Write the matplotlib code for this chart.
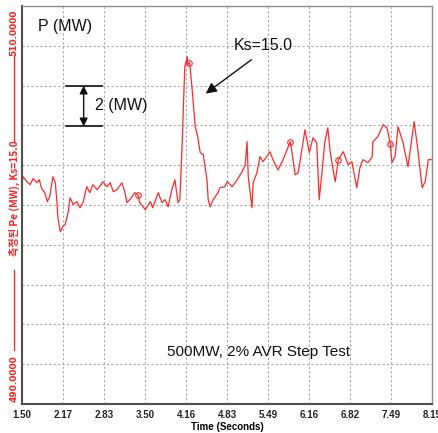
import matplotlib
matplotlib.use("Agg")
import matplotlib.pyplot as plt
import numpy as np

# ---- data ----
time_s = [1.50, 1.52, 1.58, 1.63, 1.68, 1.74, 1.78, 1.82, 1.87, 1.91, 1.95, 2.00, 2.04, 2.07, 2.08,
          2.12, 2.17, 2.20, 2.23, 2.25, 2.28, 2.33, 2.39, 2.44, 2.49, 2.55, 2.60, 2.65, 2.72, 2.77,
          2.81, 2.88, 2.93, 2.98, 3.04, 3.12, 3.17, 3.20, 3.25, 3.33, 3.38, 3.41, 3.50, 3.58, 3.62,
          3.71, 3.77, 3.82, 3.87, 3.93, 3.98, 4.03, 4.06, 4.10, 4.14, 4.18, 4.19, 4.22, 4.26, 4.31,
          4.35, 4.39, 4.44, 4.50, 4.52, 4.55, 4.60, 4.68, 4.71, 4.79, 4.83, 4.91, 4.99, 5.07, 5.12,
          5.15, 5.17, 5.23, 5.25, 5.31, 5.36, 5.41, 5.47, 5.52, 5.57, 5.65, 5.72, 5.80, 5.85, 5.88,
          5.93, 5.98, 6.04, 6.09, 6.16, 6.22, 6.28, 6.32, 6.37, 6.41, 6.46, 6.50, 6.58, 6.63, 6.71,
          6.79, 6.85, 6.93, 6.98, 7.03, 7.11, 7.18, 7.19, 7.27, 7.36, 7.42, 7.47, 7.50, 7.55, 7.60,
          7.68, 7.76, 7.86, 7.92, 7.99, 8.04, 8.09, 8.14]
power_mw = [501.12, 501.42, 501.17, 501.02, 501.32, 501.12, 501.27, 500.82, 500.62, 500.17, 500.42,
            501.42, 501.12, 500.02, 499.41, 498.66, 498.96, 499.01, 499.41, 499.66, 500.37, 500.02,
            500.17, 499.86, 500.12, 500.92, 500.62, 501.02, 500.77, 500.97, 501.17, 500.92, 501.12,
            500.67, 500.77, 501.12, 500.62, 500.12, 500.27, 500.62, 500.52, 500.12, 499.76, 500.17,
            499.86, 500.62, 500.12, 500.27, 499.91, 500.77, 501.27, 500.12, 500.27, 503.28, 506.95,
            507.45, 507.05, 507.15, 505.79, 503.93, 503.43, 502.63, 502.53, 501.27, 500.27, 499.91,
            500.27, 500.62, 500.87, 500.92, 501.17, 500.92, 501.27, 501.67, 502.03, 503.18, 501.42,
            499.86, 501.12, 501.62, 502.43, 502.18, 502.43, 502.68, 502.28, 501.77, 502.18, 502.78,
            503.18, 502.63, 501.52, 501.62, 502.78, 503.78, 502.63, 503.38, 503.13, 500.27, 501.77,
            503.13, 503.88, 502.63, 501.17, 502.28, 502.68, 502.03, 502.18, 500.87, 501.87, 502.28,
            502.13, 502.43, 503.18, 503.43, 504.04, 503.88, 503.13, 502.13, 502.43, 503.93, 503.13,
            501.92, 504.19, 502.78, 500.87, 501.17, 502.28, 502.28]
marker_t = [3.38, 4.21, 5.85, 6.63, 7.47]
marker_v = [500.52, 507.15, 503.18, 502.28, 503.08]

x_ticks = [1.50, 2.17, 2.83, 3.50, 4.16, 4.83, 5.49, 6.16, 6.82, 7.49, 8.15]
x_tick_labels = ["1.50", "2.17", "2.83", "3.50", "4.16", "4.83", "5.49", "6.16", "6.82", "7.49", "8.15"]
y_min, y_max = 490.0, 510.0
y_grid = list(np.arange(490, 511, 2))

plt.rcParams['font.family'] = ['Liberation Sans', 'DejaVu Sans']

fig = plt.figure(figsize=(4.39, 4.33), dpi=100)
ax = fig.add_axes([22/439, 29/433, 410/439, 398/433])

ax.plot(time_s, power_mw, color='#ff2a2a', lw=0.9)
ax.plot(marker_t, marker_v, ls='none', marker='o', ms=4, mfc='none', mec='#ff2a2a', mew=0.8)

ax.set_xlim(1.50, 8.15)
ax.set_ylim(y_min, y_max)
ax.set_xticks(x_ticks)
ax.set_xticklabels(x_tick_labels, fontsize=7, fontweight='bold', color='#222222')
ax.set_yticks(y_grid)
ax.set_yticklabels([])
ax.tick_params(length=0, pad=4)
ax.grid(True, color='#a8a8a8', ls=(0, (2, 2)), lw=0.8)
ax.set_xlabel("Time (Seconds)", fontsize=7, fontweight='bold', labelpad=2)

for s in ['left', 'bottom']:
    ax.spines[s].set_color('#505050')
    ax.spines[s].set_linewidth(1.5)
for s in ['top', 'right']:
    ax.spines[s].set_color('#909090')
    ax.spines[s].set_linewidth(1.0)

# y-axis labelling (red, vertical)
red = '#ff2020'
fig.text(14/439, 1 - 9/433, "510.0000", rotation=90, color=red, fontsize=6.5,
         fontweight='bold', ha='center', va='top', family=['DejaVu Sans'])
fig.text(14/439, 1 - 198/433, "측정된 Pe (MW), Ks=15.0", rotation=90, color=red, fontsize=7.3,
         fontweight='bold', ha='center', va='center', family=['Noto Sans CJK KR', 'DejaVu Sans'])
fig.text(14/439, 1 - 402/433, "490.0000", rotation=90, color=red, fontsize=6.5,
         fontweight='bold', ha='center', va='bottom', family=['DejaVu Sans'])
fig.add_artist(plt.Line2D([14/439, 14/439], [1 - 55/433, 1 - 142/433], color=red, lw=0.9))
fig.add_artist(plt.Line2D([14/439, 14/439], [1 - 270/433, 1 - 350/433], color=red, lw=0.9))

# annotations
ax.text(1.76, 508.95, "P (MW)", fontsize=11.5, color='#111111', ha='left', va='center')
ax.plot([2.21, 2.79], [506.0, 506.0], color='#111111', lw=1.2)
ax.plot([2.21, 2.79], [503.95, 503.95], color='#111111', lw=1.2)
ax.annotate("", xy=(2.50, 503.95), xytext=(2.50, 506.0),
            arrowprops=dict(arrowstyle='<|-|>', color='#111111', lw=1.0, mutation_scale=12,
                            shrinkA=0, shrinkB=0))
ax.text(2.68, 505.0, "2 (MW)", fontsize=11.5, color='#111111', ha='left', va='center')
ax.text(4.93, 508.0, "Ks=15.0", fontsize=11.5, color='#111111', ha='left', va='center')
ax.annotate("", xy=(4.48, 505.6), xytext=(5.22, 507.3),
            arrowprops=dict(arrowstyle='-|>', color='#111111', lw=1.0, mutation_scale=16,
                            shrinkA=0, shrinkB=0))
ax.text(5.33, 492.6, "500MW, 2% AVR Step Test", fontsize=11, color='#111111', ha='center', va='center')

fig.savefig("out.png", dpi=100)
